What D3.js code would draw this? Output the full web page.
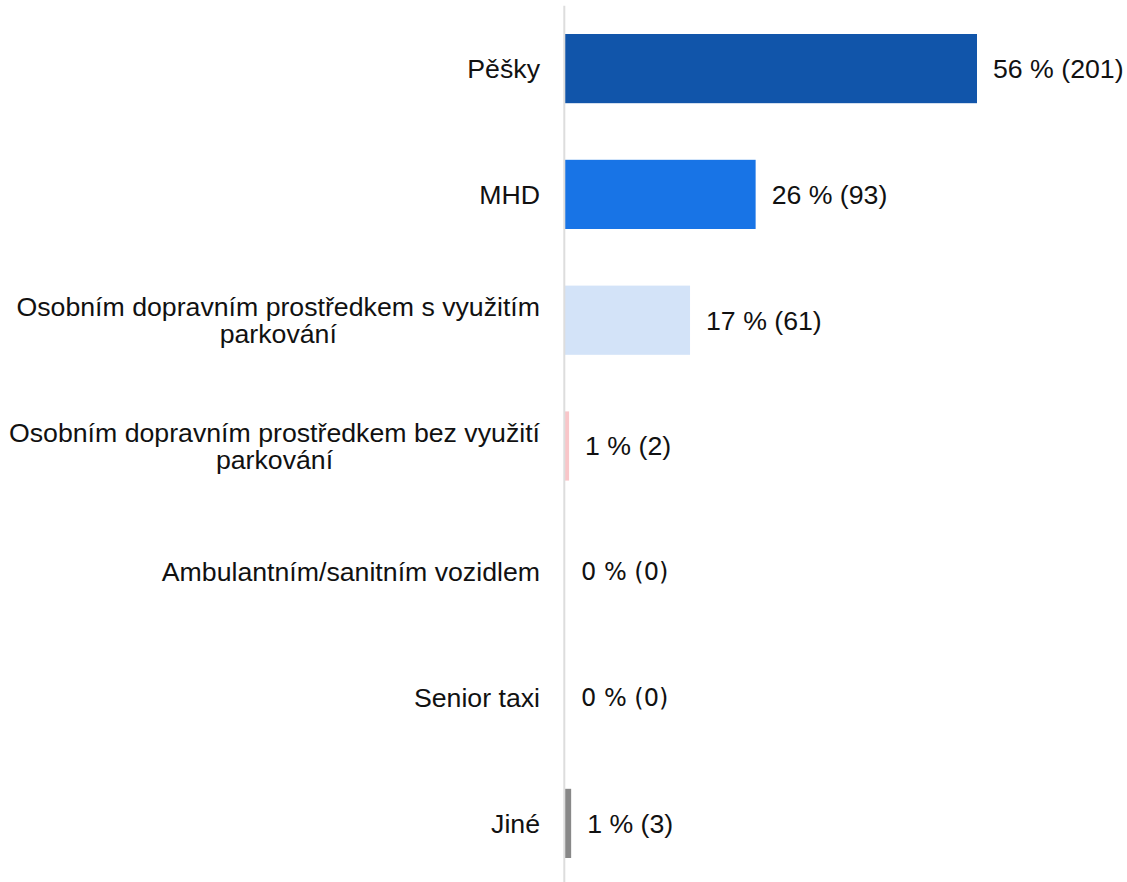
<!DOCTYPE html>
<html>
<head>
<meta charset="utf-8">
<script src="https://cdn.jsdelivr.net/npm/d3@7"></script>
<style>
html,body{margin:0;padding:0;background:#fff;}
svg{display:block;}
</style>
</head>
<body>
<svg id="chart" width="1127" height="882"></svg>
<script>
const categories = [
  ["Pěšky"],
  ["MHD"],
  ["Osobním dopravním prostředkem s využitím", "parkování"],
  ["Osobním dopravním prostředkem bez využití", "parkování"],
  ["Ambulantním/sanitním vozidlem"],
  ["Senior taxi"],
  ["Jiné"]
];
const counts = [201, 93, 61, 2, 0, 0, 3];
const percents = [56, 26, 17, 1, 0, 0, 1];
const colors = ["#1155AA", "#1874E6", "#D3E3F8", "#F9C6C9", "#999999", "#999999", "#888888"];

const svg = d3.select("#chart");
const keys = categories.map((c, i) => i);

const y = d3.scaleBand().domain(keys).range([5.7, 886.3])
  .paddingInner(0.45).paddingOuter(0.225);
const x = d3.scaleLinear().domain([0, 201]).range([565, 977]);

// bars
svg.selectAll("rect.bar").data(keys).join("rect")
  .attr("class", "bar")
  .attr("x", x(0))
  .attr("y", i => y(i))
  .attr("width", i => x(counts[i]) - x(0))
  .attr("height", y.bandwidth())
  .attr("fill", i => colors[i]);

// axis line
svg.append("line")
  .attr("x1", 564.3).attr("x2", 564.3)
  .attr("y1", y.range()[0]).attr("y2", y.range()[1])
  .attr("stroke", "#DDDDDD").attr("stroke-width", 2);

// category labels
const font = "'Liberation Sans', Arial, sans-serif";
const fs = "26.7px";
keys.forEach(i => {
  const cy = y(i) + y.bandwidth() / 2;
  const lines = categories[i];
  if (lines.length === 1) {
    svg.append("text")
      .attr("x", 540).attr("y", cy)
      .attr("dy", "0.35em")
      .attr("text-anchor", "end")
      .style("font-family", font).style("font-size", fs).attr("fill", "#111")
      .text(lines[0]);
  } else {
    const t1 = svg.append("text")
      .attr("x", 540).attr("y", cy - 13.7)
      .attr("dy", "0.35em")
      .attr("text-anchor", "end")
      .style("font-family", font).style("font-size", fs).attr("fill", "#111")
      .text(lines[0]);
    const w = t1.node().getComputedTextLength();
    svg.append("text")
      .attr("x", 540 - w / 2).attr("y", cy + 13.7)
      .attr("dy", "0.35em")
      .attr("text-anchor", "middle")
      .style("font-family", font).style("font-size", fs).attr("fill", "#111")
      .text(lines[1]);
  }
});

// value labels
svg.selectAll("text.val").data(keys).join("text")
  .attr("class", "val")
  .attr("x", i => x(counts[i]) + 16)
  .attr("y", i => y(i) + y.bandwidth() / 2)
  .attr("dy", "0.35em")
  .style("font-family", i => counts[i] === 0 ? "'DejaVu Sans', sans-serif" : font)
  .style("font-size", i => counts[i] === 0 ? "24px" : fs)
  .attr("fill", "#111")
  .text(i => `${percents[i]} % (${counts[i]})`);
</script>
</body>
</html>
